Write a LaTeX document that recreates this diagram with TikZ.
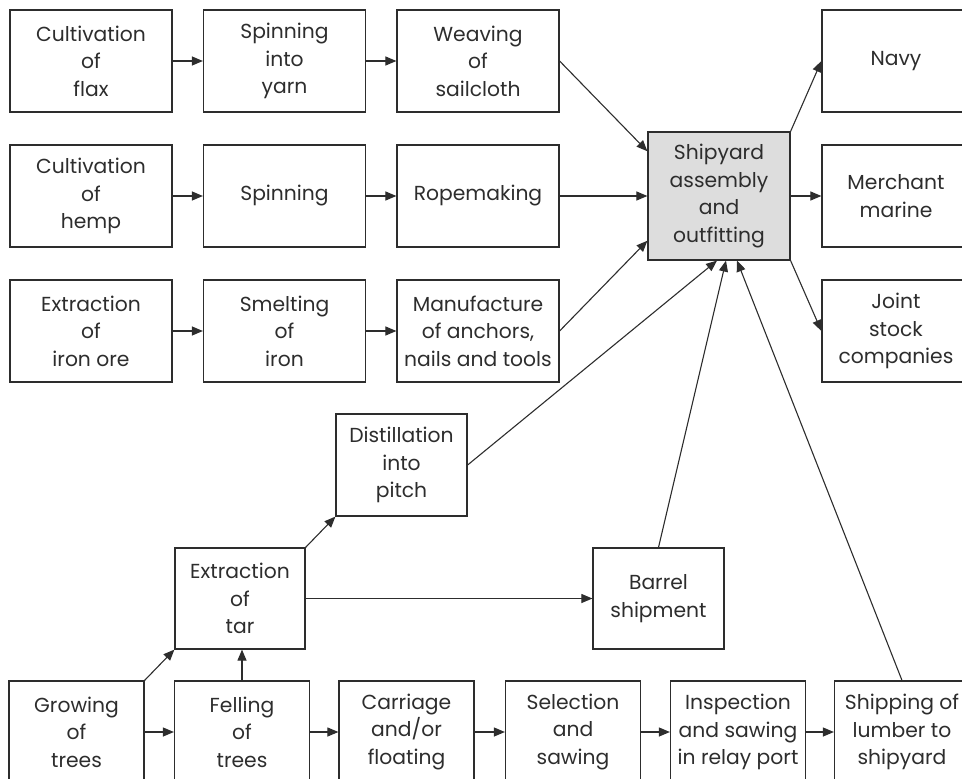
\documentclass[tikz,border=0pt]{standalone}
\usepackage{fontspec}
\setmainfont{Poppins}
\usetikzlibrary{arrows.meta,calc}
\definecolor{ln}{RGB}{45,45,45}
\definecolor{shipfill}{RGB}{221,221,221}
\begin{document}
\begin{tikzpicture}[x=1pt,y=-1pt,
  box/.style={draw=ln,line width=1.2pt,rectangle,inner sep=0pt,align=center,
    font=\fontsize{20.3}{27.5}\selectfont,text=ln},
  bw/.style={minimum width=162pt,minimum height=102pt},
  bb/.style={minimum width=135pt,minimum height=102pt},
  arr/.style={draw=ln,line width=1.1pt,-{Triangle[length=11pt,width=9pt]}}]
\useasboundingbox (0,0) rectangle (962,779);
\clip (0,0) rectangle (962,779);
% row 1
\node[box,bw] (flax) at (91,61) {Cultivation\\of\\flax};
\node[box,bw] (yarn) at (284.5,61) {Spinning\\into\\yarn};
\node[box,bw] (weave) at (478,61) {Weaving\\of\\sailcloth};
% row 2
\node[box,bw] (hemp) at (91,196) {Cultivation\\of\\hemp};
\node[box,bw] (spin) at (284.5,196) {Spinning};
\node[box,bw] (rope) at (478,196) {Ropemaking};
% row 3
\node[box,bw] (ore) at (91,331) {Extraction\\of\\iron ore};
\node[box,bw] (smelt) at (284.5,331) {Smelting\\of\\iron};
\node[box,bw] (manu) at (478,331) {Manufacture\\of anchors,\\nails and tools};
% shipyard
\node[box,fill=shipfill,minimum width=142pt,minimum height=128pt] (ship) at (719,196) {Shipyard\\assembly\\and\\outfitting};
% right column
\node[box,minimum width=148pt,minimum height=102pt] (navy) at (896,61) {Navy};
\node[box,minimum width=148pt,minimum height=102pt] (merch) at (896,196) {Merchant\\marine};
\node[box,minimum width=148pt,minimum height=102pt] (joint) at (896,331) {Joint\\stock\\companies};
% middle
\node[box,minimum width=131pt,minimum height=102pt] (dist) at (401.5,465) {Distillation\\into\\pitch};
\node[box,minimum width=130pt,minimum height=101pt] (tar) at (240,598.5) {Extraction\\of\\tar};
\node[box,minimum width=131pt,minimum height=101pt] (barrel) at (658.5,598.5) {Barrel\\shipment};
% bottom row
\node[box,bb] (grow) at (76.5,732) {Growing\\of\\trees};
\node[box,bb] (fell) at (242,732) {Felling\\of\\trees};
\node[box,bb] (carr) at (406.5,732) {Carriage\\and/or\\floating};
\node[box,bb] (sel) at (573,732) {Selection\\and\\sawing};
\node[box,bb] (insp) at (738,732) {Inspection\\and sawing\\in relay port};
\node[box,bb] (shipl) at (902,732) {Shipping of\\lumber to\\shipyard};
% arrows rows
\draw[arr] (flax) -- (yarn);
\draw[arr] (yarn) -- (weave);
\draw[arr] (hemp) -- (spin);
\draw[arr] (spin) -- (rope);
\draw[arr] (ore) -- (smelt);
\draw[arr] (smelt) -- (manu);
\draw[arr] (weave.east) -- (ship.148);
\draw[arr] (rope) -- (ship);
\draw[arr] (manu.east) -- (ship.212);
\draw[arr] (ship.north east) -- (navy.west);
\draw[arr] (ship) -- (merch);
\draw[arr] (ship.south east) -- (joint.west);
\draw[arr] (dist.east) -- ([xshift=-2pt]ship.south);
\draw[arr] (barrel.north) -- ([xshift=7pt]ship.south);
\draw[arr] (shipl.north) -- ([xshift=18pt]ship.south);
\draw[arr] (grow.north east) -- (tar.south west);
\draw[arr] (fell.north) -- (fell.north |- tar.south);
\draw[arr] (tar.north east) -- (dist.south west);
\draw[arr] (tar) -- (barrel);
\draw[arr] (grow) -- (fell);
\draw[arr] (fell) -- (carr);
\draw[arr] (carr) -- (sel);
\draw[arr] (sel) -- (insp);
\draw[arr] (insp) -- (shipl);
\end{tikzpicture}
\end{document}
